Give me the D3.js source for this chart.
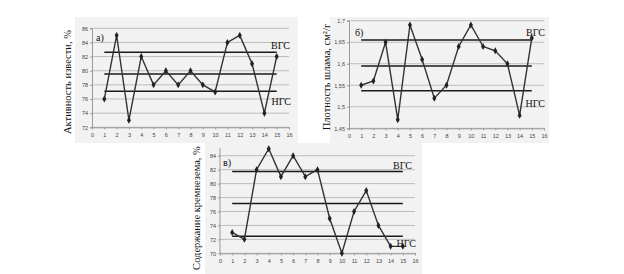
<!DOCTYPE html>
<html><head><meta charset="utf-8">
<script src="https://cdn.jsdelivr.net/npm/d3@7/dist/d3.min.js"></script>
<style>body{margin:0;background:#fff}svg{display:block}</style>
</head><body>
<svg id="c" width="624" height="274"></svg>
<script>
// ---- data ----
const samples = [1,2,3,4,5,6,7,8,9,10,11,12,13,14,15];
const xTickValues = [0,1,2,3,4,5,6,7,8,9,10,11,12,13,14,15,16];

const limeActivity = [76,85,73,82,78,80,78,80,78,77,84,85,81,74,82];
const limeTicks = [72,74,76,78,80,82,84,86];
const limeLimits = [82.6, 79.55, 77.1]; // ВГС, mean, НГС

const slurryDensity = [1.55,1.56,1.65,1.47,1.69,1.61,1.52,1.55,1.64,1.69,1.64,1.63,1.60,1.48,1.66];
const densityTicks = [1.45,1.5,1.55,1.6,1.65,1.7];
const densityLimits = [1.655, 1.595, 1.537];

const silicaContent = [73,72,82,85,81,84,81,82,75,70,76,79,74,71,71];
const silicaTicks = [70,72,74,76,78,80,82,84];
const silicaLimits = [81.75, 77.15, 72.45];

const panelLetters = ["а)", "б)", "в)"];
const yTitles = ["Активность извести, %", "Плотность шлама, см²/г", "Содержание кремнезема, %"];
const upperLabel = "ВГС", lowerLabel = "НГС";

// ---- drawing ----
const svg = d3.select("#c");
const serif = "'Liberation Serif','Times New Roman',serif";
const sans = "'Liberation Sans',Arial,sans-serif";

function panel(o) {
  const g = svg.append("g");
  g.append("rect").attr("x", o.bg[0]).attr("y", o.bg[1]).attr("width", o.bg[2]).attr("height", o.bg[3]).attr("fill", "#f2f2f2");
  const x = d3.scaleLinear().domain([0,16]).range([o.x0, o.x1]);
  const y = d3.scaleLinear().domain(o.ydom).range([o.y0, o.y1]);
  g.selectAll(".grid").data(o.ticks).join("line")
    .attr("x1", o.x0).attr("x2", o.x1).attr("y1", d => y(d)).attr("y2", d => y(d))
    .attr("stroke", "#bdbdbd").attr("stroke-width", 1);
  const ya = g.append("g").attr("transform", `translate(${o.x0},0)`)
    .call(d3.axisLeft(y).tickValues(o.ticks).tickSize(2).tickPadding(2).tickFormat(o.fmt));
  ya.select(".domain").attr("stroke", "#999");
  if (o.axisTop !== undefined) ya.select(".domain").attr("d", `M0,${o.axisTop}V${y(o.ydom[0])}`);
  ya.selectAll(".tick line").attr("stroke", "#999");
  ya.selectAll("text").attr("font-family", sans).attr("font-size", 5.5).attr("fill", "#444");
  const xa = g.append("g").attr("transform", `translate(0,${y(o.ydom[0])})`)
    .call(d3.axisBottom(x).tickValues(xTickValues).tickSize(2).tickPadding(4));
  xa.select(".domain").attr("stroke", "#999");
  xa.selectAll(".tick line").attr("stroke", "#999");
  xa.selectAll("text").attr("font-family", sans).attr("font-size", 5.5).attr("fill", "#444");
  g.selectAll(".lim").data(o.limits).join("line")
    .attr("x1", x(1)).attr("x2", x(15)).attr("y1", d => y(d)).attr("y2", d => y(d))
    .attr("stroke", "#1a1a1a").attr("stroke-width", 1.5);
  const pts = samples.map((s,i) => [s, o.values[i]]);
  g.append("path").datum(pts)
    .attr("d", d3.line().x(d => x(d[0])).y(d => y(d[1])))
    .attr("fill", "none").attr("stroke", "#333").attr("stroke-width", 1.4);
  g.selectAll(".m").data(pts).join("path")
    .attr("transform", d => `translate(${x(d[0])},${y(d[1])})`)
    .attr("d", d3.symbol(d3.symbolDiamond, 14)).attr("fill", "#222");
  g.append("text").attr("x", o.letter[0]).attr("y", o.letter[1]).text(o.letterText)
    .attr("font-family", serif).attr("font-size", 10).attr("fill", "#111");
  g.append("text").attr("x", o.up[0]).attr("y", o.up[1]).text(upperLabel)
    .attr("font-family", serif).attr("font-size", 10).attr("fill", "#111").attr("text-anchor", "end");
  g.append("text").attr("x", o.low[0]).attr("y", o.low[1]).text(lowerLabel)
    .attr("font-family", serif).attr("font-size", 10).attr("fill", "#111").attr("text-anchor", "end");
  g.append("text").attr("transform", `translate(${o.title[0]},${o.title[1]}) rotate(-90)`)
    .attr("text-anchor", "middle").attr("font-family", serif).attr("font-size", 10.5).attr("fill", "#111")
    .text(o.titleText);
}

const comma = d => String(d).replace(".", ",");

panel({bg:[75,17,223,126], x0:92, x1:289, y0:127.3, y1:28.3, ydom:[72,86], ticks:limeTicks,
  fmt: comma, values: limeActivity, limits: limeLimits, letterText: panelLetters[0],
  letter:[96,41], up:[290,49], low:[291,105], title:[71,82], titleText: yTitles[0]});

panel({bg:[330,17,219,126], x0:349, x1:544, y0:128.3, y1:20.7, ydom:[1.45,1.7], ticks:densityTicks,
  fmt: comma, values: slurryDensity, limits: densityLimits, letterText: panelLetters[1],
  letter:[355,36], up:[545,36], low:[545,107], title:[330,77], titleText: yTitles[1]});

panel({bg:[205,143,217,131], x0:220, x1:415, y0:253.3, y1:141.8, ydom:[70,86], ticks:silicaTicks,
  fmt: comma, values: silicaContent, limits: silicaLimits, letterText: panelLetters[2], axisTop:148,
  letter:[223,166], up:[412,169], low:[416,247], title:[200,208], titleText: yTitles[2]});
</script>
</body></html>
